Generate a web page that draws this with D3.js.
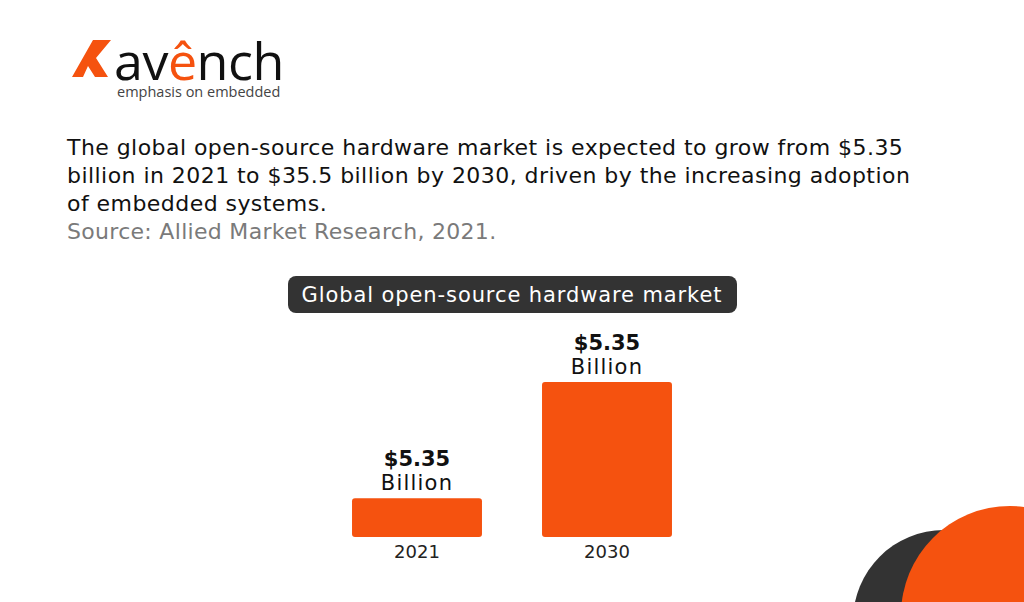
<!DOCTYPE html>
<html>
<head>
<meta charset="utf-8">
<script src="https://cdn.jsdelivr.net/npm/d3@7"></script>
<style>
  body { margin: 0; background: #fff; }
  svg { display: block; font-family: "DejaVu Sans", "Open Sans", sans-serif; }
</style>
</head>
<body>
<div id="chart"></div>
<script>
// data

const years = ["2021", "2030"]
const barHeights = [1, 4]              // relative bar heights as drawn (not to scale with the labels)
const valueLabels = ["$5.35", "$5.35"] // the picture says $5.35 over both bars
const unitLabels = ["Billion", "Billion"]

const chartTitle = "Global open-source hardware market"
const intro = [
  "The global open-source hardware market is expected to grow from $5.35",
  "billion in 2021 to $35.5 billion by 2030, driven by the increasing adoption",
  "of embedded systems."
]
const source = "Source: Allied Market Research, 2021."

const orange = "#f5520f"
const dark = "#333333"

const width = 1024
const height = 602

const svg = d3.select("#chart")
  .append("svg")
  .attr("width", width)
  .attr("height", height)

// corner decoration

svg.append("circle").attr("cx", 944).attr("cy", 621).attr("r", 91).attr("fill", dark)
svg.append("circle").attr("cx", 1010).attr("cy", 615).attr("r", 109).attr("fill", orange)

// logo

svg.append("path")
  .attr("d", "M93,40 L111,40 L96,58 L108,77 L95,77 L88,66 L83,77 L72,77 Z")
  .attr("fill", orange)

const logo = svg.append("text")
  .attr("x", 114)
  .attr("y", 80)
  .style("font-family", "\"Open Sans\", sans-serif")
  .style("font-size", "52px")
  .style("letter-spacing", "-0.5px")
  .attr("fill", "#111")
logo.append("tspan").text("av")
logo.append("tspan").attr("fill", orange).text("ê")
logo.append("tspan").text("nch")

svg.append("text")
  .attr("x", 117)
  .attr("y", 97)
  .style("font-family", "\"Open Sans\", sans-serif")
  .style("font-size", "14.5px")
  .attr("fill", "#444")
  .text("emphasis on embedded")

// intro paragraph

svg.append("g")
  .selectAll("text")
  .data(intro)
  .join("text")
  .attr("x", 67)
  .attr("y", (d, i) => 155 + i * 28)
  .style("font-size", "22px")
  .style("letter-spacing", "0.45px")
  .attr("fill", "#111")
  .text(d => d)

svg.append("text")
  .attr("x", 67)
  .attr("y", 239)
  .style("font-size", "22px")
  .style("letter-spacing", "0.3px")
  .attr("fill", "#7a7a7a")
  .text(source)

// title pill

svg.append("rect")
  .attr("x", 288).attr("y", 276)
  .attr("width", 449).attr("height", 37)
  .attr("rx", 8)
  .attr("fill", dark)

svg.append("text")
  .attr("x", 512)
  .attr("y", 302)
  .attr("text-anchor", "middle")
  .style("font-size", "21px")
  .style("letter-spacing", "0.9px")
  .attr("fill", "#fff")
  .text(chartTitle)

// scales

const x = d3.scaleBand()
  .domain(years)
  .range([322, 702])
  .paddingInner(0.316)
  .paddingOuter(0.158)

const y = d3.scaleLinear()
  .domain([0, d3.max(barHeights)])
  .range([537, 382])

const rows = years.map((yr, i) => ({ yr, h: barHeights[i], value: valueLabels[i], unit: unitLabels[i] }))

// bars

svg.append("g")
  .selectAll("rect")
  .data(rows)
  .join("rect")
  .attr("x", d => x(d.yr))
  .attr("y", d => y(d.h))
  .attr("width", x.bandwidth())
  .attr("height", d => y(0) - y(d.h))
  .attr("rx", 3)
  .attr("fill", orange)

// value labels above bars

const lbl = svg.append("g")
  .selectAll("g")
  .data(rows)
  .join("g")
  .attr("transform", d => `translate(${x(d.yr) + x.bandwidth() / 2},${y(d.h)})`)

lbl.append("text")
  .attr("y", -32)
  .attr("text-anchor", "middle")
  .style("font-size", "21px")
  .style("font-weight", "bold")
  .attr("fill", "#111")
  .text(d => d.value)

lbl.append("text")
  .attr("y", -8)
  .attr("text-anchor", "middle")
  .style("font-size", "21px")
  .style("letter-spacing", "1.2px")
  .attr("fill", "#111")
  .text(d => d.unit)

// year axis

const axis = svg.append("g")
  .attr("transform", `translate(0,${y(0)})`)
  .call(d3.axisBottom(x).tickSize(0).tickPadding(8))

axis.select(".domain").remove()
axis.selectAll("text")
  .style("font-size", "18px")
  .style("font-family", "\"DejaVu Sans\", sans-serif")
  .attr("fill", "#222")
</script>
</body>
</html>
